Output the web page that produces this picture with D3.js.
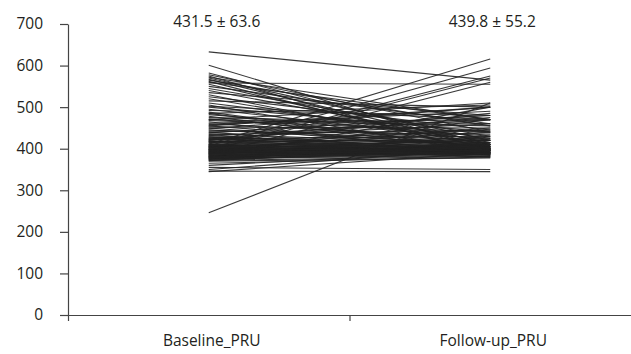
<!DOCTYPE html>
<html>
<head>
<meta charset="utf-8">
<script src="https://cdn.jsdelivr.net/npm/d3@7"></script>
<style>
  body { margin: 0; background: #fff; }
  svg text { font-family: "Open Sans", "Noto Sans", sans-serif; fill: #231f20; }
</style>
</head>
<body>
<div class="pru-graph"></div>
<script>
const categories = ["Baseline_PRU", "Follow-up_PRU"];
const summaries = ["431.5 \u00b1 63.6", "439.8 \u00b1 55.2"];
const yTicks = [0, 100, 200, 300, 400, 500, 600, 700];

// one entry per patient, same order in both arrays
const baseline = [
  633, 601, 582, 578, 575, 572, 570, 567, 565, 562, 560, 558, 555, 550, 545, 540, 535, 530, 525, 520, 515, 510, 505, 502, 500,
  495, 492, 488, 485, 482, 478, 475, 472, 470, 468, 465, 462, 460, 458, 455, 452, 450, 448, 445, 442, 440, 438, 436, 434, 432, 430, 485, 470, 455, 445,
  428, 426, 425, 424, 422, 420, 419, 418, 417, 416, 428, 423, 421, 418, 415,
  414, 412, 411, 410, 409, 408, 407, 406, 405, 404, 403, 402, 401, 400, 399, 398, 397, 396, 395, 394, 393, 392, 391, 390, 389, 388, 387, 386, 385, 384,
  383, 382, 381, 380, 379, 378, 377, 376, 375, 374, 373, 372, 371, 370, 405, 398, 392, 388, 382, 376,
  410, 406, 402, 399, 396, 393, 390, 387, 384, 381, 378, 395, 400, 385, 408, 392, 380, 404, 389, 397,
  365, 360, 355, 350, 346, 345, 246
];
const followup = [
  565, 395, 410, 440, 385, 470, 420, 405, 455, 390, 470, 555, 400, 460, 430, 415, 480, 395, 445, 410, 500, 425, 390, 470, 440,
  420, 480, 400, 505, 430, 395, 460, 415, 510, 440, 385, 470, 425, 490, 405, 450, 400, 500, 420, 435, 390, 480, 410, 445, 395, 470, 398, 455, 500, 412,
  410, 460, 395, 430, 405, 485, 400, 420, 390, 445, 402, 415, 475, 398, 425,
  400, 388, 616, 415, 395, 402, 594, 410, 392, 405, 440, 398, 575, 385, 420, 395, 408, 570, 390, 412, 400, 395, 470, 385, 405, 398, 410, 560, 392, 400,
  388, 415, 380, 395, 500, 402, 390, 385, 410, 398, 395, 382, 405, 378, 420, 450, 390, 430, 395, 410,
  392, 385, 400, 410, 388, 396, 405, 382, 398, 390, 408, 386, 394, 402, 380, 396, 404, 388, 392, 400,
  380, 395, 350, 400, 345, 390, 510
];

const width = 631, height = 354;
const margin = { top: 24, right: 0, bottom: 39, left: 68 };

const svg = d3.select(".pru-graph").append("svg")
  .attr("width", width)
  .attr("height", height);

const x = d3.scaleBand()
  .domain(categories)
  .range([margin.left, width - margin.right]);

const xEdges = d3.scaleLinear()
  .domain([0, categories.length])
  .range([margin.left, width - margin.right]);

const y = d3.scaleLinear()
  .domain([0, 700])
  .range([height - margin.bottom, margin.top]);

const xc = (c) => x(c) + x.bandwidth() / 2;

// paired lines
const pairs = baseline.map((b, i) => [b, followup[i]]);
svg.append("g")
  .selectAll("line")
  .data(pairs)
  .enter().append("line")
  .attr("x1", xc(categories[0]))
  .attr("x2", xc(categories[1]))
  .attr("y1", (d) => y(d[0]))
  .attr("y2", (d) => y(d[1]))
  .attr("stroke", "#222")
  .attr("stroke-opacity", 0.9)
  .attr("stroke-width", 1.1);

// y axis
const yAxis = svg.append("g")
  .attr("transform", `translate(${margin.left},0)`)
  .call(d3.axisLeft(y).tickValues(yTicks).tickSize(8).tickSizeOuter(0).tickPadding(17));
yAxis.selectAll("text").style("font-size", "15.5px");

// x axis with ticks at category boundaries
svg.append("g")
  .attr("transform", `translate(0,${height - margin.bottom})`)
  .call(d3.axisBottom(xEdges).tickValues([0, 1]).tickFormat("").tickSize(6).tickSizeOuter(0));

svg.selectAll(".domain, .tick line").attr("stroke", "#444").attr("stroke-width", 1.2);

svg.append("g")
  .selectAll("text")
  .data(categories)
  .enter().append("text")
  .attr("x", (d) => xc(d) + 3)
  .attr("y", height - 8)
  .attr("text-anchor", "middle")
  .style("font-size", "15.5px")
  .text((d) => d);

svg.append("g")
  .selectAll("text")
  .data(summaries)
  .enter().append("text")
  .attr("x", (d, i) => xc(categories[i]) + (i === 0 ? 8 : 2))
  .attr("y", 27)
  .attr("text-anchor", "middle")
  .style("font-size", "15.5px")
  .text((d) => d);
</script>
</body>
</html>
